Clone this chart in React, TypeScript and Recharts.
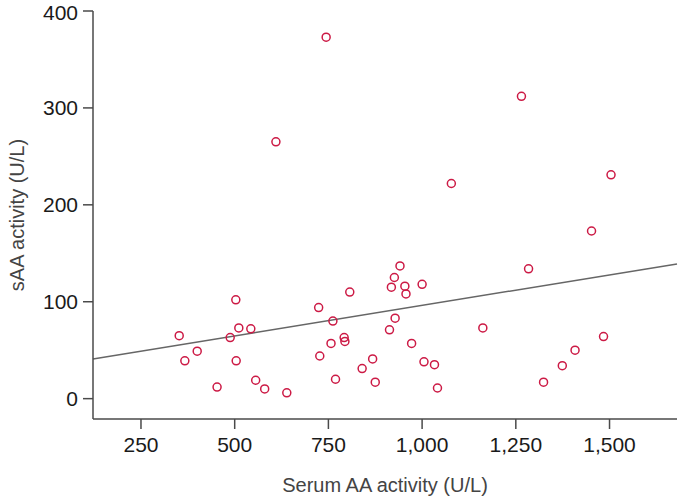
import { ScatterChart, Scatter, XAxis, YAxis, ReferenceLine, Label } from 'recharts'

// serum AA activity (U/L) vs salivary AA activity (U/L)
const serumAA = [
  503, 352, 511, 543, 488, 400, 367, 504, 453, 556, 580, 639,
  941, 926, 918, 954, 957, 1000, 807, 724, 762, 928, 913, 757,
  792, 794, 727, 972, 868, 840, 1005, 1033, 769, 875, 1041,
  1162, 1078, 1504, 1452, 1284, 1484, 1408, 1374, 1324, 744, 610, 1265,
]
const salivaAA = [
  102, 65, 73, 72, 63, 49, 39, 39, 12, 19, 10, 6,
  137, 125, 115, 116, 108, 118, 110, 94, 80, 83, 71, 57,
  63, 59, 44, 57, 41, 31, 38, 35, 20, 17, 11,
  73, 222, 231, 173, 134, 64, 50, 34, 17, 373, 265, 312,
]

// fitted line, read at the plot edges
const fitX = [122, 1680]
const fitY = [41, 139]

const xTicks = [250, 500, 750, 1000, 1250, 1500]
const yTicks = [0, 100, 200, 300, 400]

const points = serumAA.map((x, i) => ({ x, y: salivaAA[i] }))

const font = '"Liberation Sans", Arial, sans-serif'
const axisColor = '#4a4a4a'

const OpenCircle = (props: any) => {
  const { cx, cy } = props
  if (cx == null || cy == null) return null
  return <circle cx={cx} cy={cy} r={4} fill="none" stroke="#cc1a45" strokeWidth={1.5} />
}

const XTitle = ({ viewBox }: any) => {
  const cx = viewBox.x + viewBox.width / 2
  const y = viewBox.y + viewBox.height - 7
  return (
    <text x={cx} y={y} textAnchor="middle" fill="#444" fontSize={20} fontFamily={font}>
      Serum AA activity (U/L)
    </text>
  )
}

const YTitle = ({ viewBox }: any) => {
  const x = 24
  const cy = viewBox.y + viewBox.height / 2
  return (
    <text
      x={x}
      y={cy}
      transform={`rotate(-90 ${x} ${cy})`}
      textAnchor="middle"
      fill="#444"
      fontSize={20}
      fontFamily={font}
    >
      sAA activity (U/L)
    </text>
  )
}

const tickStyle = { fill: '#1a1a1a', fontSize: 21, stroke: 'none' }

export default function App() {
  return (
    <div style={{ position: 'absolute', left: 0, top: 0, background: '#fff' }}>
      <ScatterChart
        width={678}
        height={499}
        margin={{ top: 11, right: 1, bottom: 0, left: 0 }}
        style={{ fontFamily: font }}
      >
        <XAxis
          type="number"
          dataKey="x"
          domain={[fitX[0], fitX[1]]}
          ticks={xTicks}
          allowDataOverflow
          tickFormatter={(v: number) => v.toLocaleString('en-US')}
          height={80}
          stroke={axisColor}
          strokeWidth={1.5}
          tickSize={10}
          tickMargin={8}
          tick={tickStyle}
        >
          <Label content={<XTitle />} />
        </XAxis>
        <YAxis
          type="number"
          dataKey="y"
          domain={[-21, 400]}
          ticks={yTicks}
          allowDataOverflow
          width={93}
          stroke={axisColor}
          strokeWidth={1.5}
          tickSize={10}
          tickMargin={5}
          tick={tickStyle}
        >
          <Label content={<YTitle />} />
        </YAxis>
        <ReferenceLine
          segment={[
            { x: fitX[0], y: fitY[0] },
            { x: fitX[1], y: fitY[1] },
          ]}
          stroke="#666"
          strokeWidth={1.5}
          ifOverflow="visible"
        />
        <Scatter data={points} shape={<OpenCircle />} isAnimationActive={false} />
      </ScatterChart>
    </div>
  )
}
